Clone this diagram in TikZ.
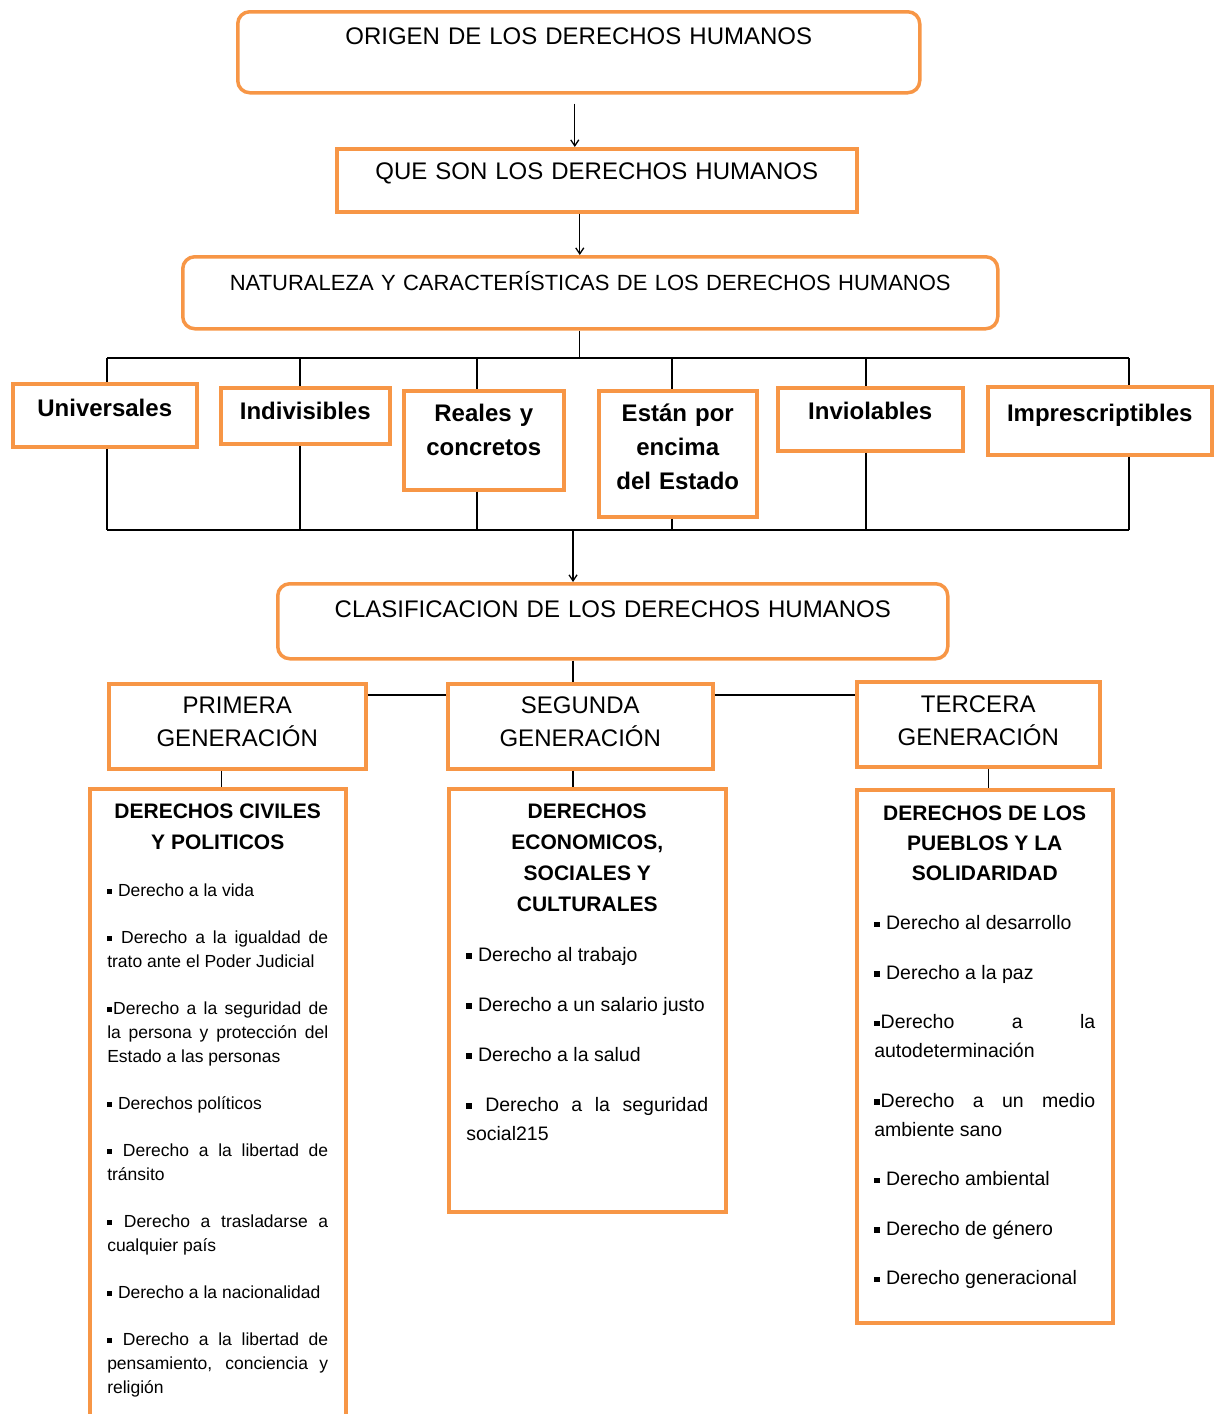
\documentclass[tikz,border=0pt]{standalone}
\usepackage{fontspec}
\setmainfont{Liberation Sans}
\usetikzlibrary{arrows.meta}
\definecolor{naranja}{RGB}{247,150,70}
\hyphenpenalty=10000
\exhyphenpenalty=10000
\newcommand{\vin}{\rule[0.12em]{0.28em}{0.28em}\kern1pt}
\newcommand{\titulo}[1]{\fontsize{21}{#1}\selectfont\bfseries\centering}
\tikzset{
  caja/.style n args={3}{draw=naranja, line width=3.5pt, fill=white,
    inner sep=0pt, anchor=north west, align=center,
    font=\fontsize{24}{33}\selectfont,
    text width=#1, text height=#2, text depth=#3},
  redonda/.style={rounded corners=12pt},
  rasgo/.style={font=\bfseries\fontsize{24}{34}\selectfont},
  lista/.style n args={3}{caja={#1}{#2}{#3}, inner xsep=17.5pt, align=justify,
    font=\fontsize{17.5}{24}\selectfont},
  linea/.style={line width=1.3pt},
  flecha/.style={linea, -{Straight Barb[length=6pt,width=8pt]}},
}
\begin{document}
\begin{tikzpicture}[x=1pt, y=-1pt]
\useasboundingbox (0,0) rectangle (1217,1414);
\clip (0,0) rectangle (1217,1414);

\node[caja={682pt}{32.6pt}{48.4pt}, redonda] (origen) at (236,10) {ORIGEN DE LOS DERECHOS HUMANOS};
\node[caja={520pt}{30.6pt}{32.4pt}] (queson) at (335,147) {QUE SON LOS DERECHOS HUMANOS};
\node[caja={815pt}{34pt}{38pt}, redonda, font=\fontsize{22}{26}\selectfont] (natur) at (181,255) {NATURALEZA Y CARACTERÍSTICAS DE LOS DERECHOS HUMANOS};

\node[caja={184pt}{32.6pt}{30.4pt}, rasgo] (univ)   at (11,382)  {Universales};
\node[caja={169pt}{31.6pt}{24.4pt}, rasgo] (indiv)  at (219,386) {Indivisibles};
\node[caja={160pt}{30.6pt}{68.4pt}, rasgo] (reales) at (402,389) {Reales y\\concretos};
\node[caja={158pt}{30.6pt}{95.4pt}, rasgo] (encima) at (597,389) {Están por\\encima\\del Estado};
\node[caja={185pt}{31.6pt}{31.4pt}, rasgo] (inviol) at (776,386) {Inviolables};
\node[caja={224pt}{34.6pt}{33.4pt}, rasgo] (impres) at (986,385) {Imprescriptibles};

\node[caja={670pt}{33.6pt}{41.4pt}, redonda] (clasif) at (276,582) {CLASIFICACION DE LOS DERECHOS HUMANOS};

\node[caja={257pt}{29.6pt}{55.4pt}] (primera) at (107,682) {PRIMERA\\GENERACIÓN};
\node[caja={265pt}{29.6pt}{55.4pt}] (segunda) at (446,682) {SEGUNDA\\GENERACIÓN};
\node[caja={243pt}{30.6pt}{54.4pt}] (tercera) at (855,680) {TERCERA\\GENERACIÓN};

\node[lista={221pt}{29.5pt}{623.5pt}] (civiles) at (88,787) {%
  {\titulo{31}DERECHOS CIVILES\linebreak Y POLITICOS\par}
  \parskip=23pt
  \vin{} Derecho a la vida\par
  \vin{} Derecho a la igualdad de\linebreak trato ante el Poder Judicial\par
  \vin Derecho a la seguridad de\linebreak la persona y protección del\linebreak Estado a las personas\par
  \vin{} Derechos políticos\par
  \vin{} Derecho a la libertad de\linebreak tránsito\par
  \vin{} Derecho a trasladarse a\linebreak cualquier país\par
  \vin{} Derecho a la nacionalidad\par
  \vin{} Derecho a la libertad de\linebreak pensamiento, conciencia y\linebreak religión\par};
\node[lista={242pt}{29.5pt}{393.5pt}, font=\fontsize{19.5}{29}\selectfont] (economicos) at (447,787) {%
  {\titulo{31}DERECHOS\linebreak ECONOMICOS,\linebreak SOCIALES Y\linebreak CULTURALES\par}
  \parskip=21pt
  \vin{} Derecho al trabajo\par
  \vin{} Derecho a un salario justo\par
  \vin{} Derecho a la salud\par
  \vin{} Derecho a la seguridad\linebreak social215\par};
\node[lista={221pt}{30.5pt}{502.5pt}, font=\fontsize{19.5}{29}\selectfont] (pueblos) at (855,788) {%
  {\titulo{30}DERECHOS DE LOS\linebreak PUEBLOS Y LA\linebreak SOLIDARIDAD\par}
  \parskip=20.5pt
  \vin{} Derecho al desarrollo\par
  \vin{} Derecho a la paz\par
  \vin Derecho a la\linebreak autodeterminación\par
  \vin Derecho a un medio\linebreak ambiente sano\par
  \vin{} Derecho ambiental\par
  \vin{} Derecho de género\par
  \vin{} Derecho generacional\par};

\coordinate (arriba)  at (107,358);
\coordinate (arribaF) at (1129,358);
\coordinate (abajo)   at (107,530);
\coordinate (abajoF)  at (1129,530);
\coordinate (tronco)  at (573,530);
\coordinate (gen)     at (0,695);

\draw[flecha] ([xshift=-4pt, yshift=-9pt]origen.south) -- ([xshift=-4pt]origen.south |- queson.north);
\draw[flecha] ([xshift=-17pt]queson.south) -- ([xshift=-17pt]queson.south |- natur.north);
\draw[linea] ([xshift=-10.5pt]natur.south) -- ([xshift=-10.5pt]natur.south |- arriba);
\draw[linea] (arriba) -- (arribaF);
\draw[linea] (abajo) -- (abajoF);
\foreach \n/\x in {univ/107, indiv/300, reales/477, encima/672, inviol/866, impres/1129} {
  \coordinate (p) at (\x,358);
  \draw[linea] (p) -- (p |- \n.north);
  \draw[linea] (p |- \n.south) -- (p |- abajo);
}
\draw[flecha] (tronco) -- (tronco |- clasif.north);
\draw[linea] (tronco |- clasif.south) -- (tronco |- segunda.north);
\draw[linea] (primera.east |- gen) -- (segunda.west |- gen);
\draw[linea] (segunda.east |- gen) -- (tercera.west |- gen);
\draw[linea] ([xshift=4pt]primera.south -| civiles.north) -- ([xshift=4pt]civiles.north);
\draw[linea] (tronco |- segunda.south) -- (tronco |- economicos.north);
\draw[linea] ([xshift=4pt]tercera.south -| pueblos.north) -- ([xshift=4pt]pueblos.north);
\end{tikzpicture}
\end{document}
